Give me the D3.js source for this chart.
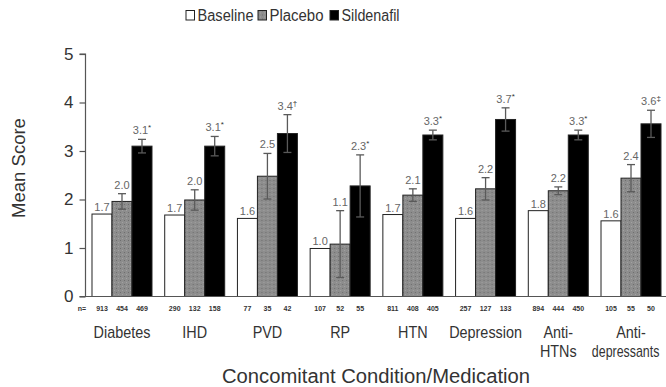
<!DOCTYPE html>
<html>
<head>
<meta charset="utf-8">
<script src="https://cdn.jsdelivr.net/npm/d3@7"></script>
<style>
  html, body { margin: 0; padding: 0; background: #fff; }
  svg { display: block; font-family: "Liberation Sans", Arial, sans-serif; }
</style>
</head>
<body>
<div id="chart"></div>
<script>
// 数据
const categories = ['Diabetes', 'IHD', 'PVD', 'RP', 'HTN', 'Depression', 'Anti-HTNs', 'Anti-depressants'];
const categoryLines = [['Diabetes'], ['IHD'], ['PVD'], ['RP'], ['HTN'], ['Depression'], ['Anti-', 'HTNs'], ['Anti-', 'depressants']];
const seriesNames = ['Baseline', 'Placebo', 'Sildenafil'];

const baseline = [1.70, 1.68, 1.61, 0.99, 1.69, 1.61, 1.77, 1.56];
const placebo = [1.96, 1.99, 2.48, 1.08, 2.09, 2.22, 2.18, 2.44];
const sildenafil = [3.10, 3.10, 3.36, 2.28, 3.33, 3.65, 3.33, 3.56];

const placeboErr = [0.16, 0.21, 0.47, 0.69, 0.13, 0.23, 0.08, 0.28];
const sildenafilErr = [0.14, 0.20, 0.39, 0.64, 0.10, 0.24, 0.10, 0.28];

const baselineLabels = ['1.7', '1.7', '1.6', '1.0', '1.7', '1.6', '1.8', '1.6'];
const placeboLabels = ['2.0', '2.0', '2.5', '1.1', '2.1', '2.2', '2.2', '2.4'];
const sildenafilLabels = ['3.1', '3.1', '3.4', '2.3', '3.3', '3.7', '3.3', '3.6'];
const sildenafilMarks = ['*', '*', '\u2020', '*', '*', '*', '*', '\u2021'];

const nBaseline = [913, 290, 77, 107, 811, 257, 894, 105];
const nPlacebo = [454, 132, 35, 52, 408, 127, 444, 55];
const nSildenafil = [469, 158, 42, 55, 405, 133, 450, 50];

const yTicks = [0, 1, 2, 3, 4, 5];

const colors = ['#ffffff', '#8a8a8a', '#000000'];

// 尺寸
const width = 666, height = 387;
const axisLeft = 85.5, axisBottom = 296.5, axisTop = 54;

const svg = d3.select('#chart').append('svg')
  .attr('width', width)
  .attr('height', height);

// 比例尺
const x0 = d3.scaleBand()
  .domain(categories)
  .range([84, 669])
  .paddingInner(0.175)
  .paddingOuter(0.11);

const x1 = d3.scaleBand()
  .domain(seriesNames)
  .range([0, x0.bandwidth()])
  .padding(0);

const y = d3.scaleLinear()
  .domain([0, 5])
  .range([axisBottom, axisTop]);

// 斑点纹理（安慰剂柱）
const defs = svg.append('defs');
const pat = defs.append('pattern')
  .attr('id', 'stipple')
  .attr('width', 4)
  .attr('height', 4)
  .attr('patternUnits', 'userSpaceOnUse');
pat.append('rect').attr('width', 4).attr('height', 4).attr('fill', '#8d8d8d');
pat.append('rect').attr('x', 0).attr('y', 0).attr('width', 1).attr('height', 1).attr('fill', '#6e6e6e');
pat.append('rect').attr('x', 2).attr('y', 2).attr('width', 1).attr('height', 1).attr('fill', '#a2a2a2');

const rows = categories.map((c, i) => ({
  cat: c,
  i,
  values: [
    { key: 'Baseline', v: baseline[i], err: 0, label: baselineLabels[i], mark: '', n: nBaseline[i] },
    { key: 'Placebo', v: placebo[i], err: placeboErr[i], label: placeboLabels[i], mark: '', n: nPlacebo[i] },
    { key: 'Sildenafil', v: sildenafil[i], err: sildenafilErr[i], label: sildenafilLabels[i], mark: sildenafilMarks[i], n: nSildenafil[i] }
  ]
}));

const groups = svg.selectAll('.grp')
  .data(rows)
  .enter()
  .append('g')
  .attr('class', 'grp')
  .attr('transform', d => `translate(${x0(d.cat)},0)`);

// 柱子
groups.selectAll('rect.bar')
  .data(d => d.values)
  .enter()
  .append('rect')
  .attr('class', 'bar')
  .attr('x', d => x1(d.key))
  .attr('width', x1.bandwidth())
  .attr('y', d => y(d.v))
  .attr('height', d => axisBottom - y(d.v))
  .attr('fill', d => d.key === 'Placebo' ? 'url(#stipple)' : colors[seriesNames.indexOf(d.key)])
  .attr('stroke', '#222')
  .attr('stroke-width', 1);

// 误差线
const errs = groups.selectAll('g.err')
  .data(d => d.values.filter(v => v.err > 0))
  .enter()
  .append('g')
  .attr('class', 'err')
  .attr('stroke', '#5a5a5a')
  .attr('stroke-width', 1.3);

errs.append('line')
  .attr('x1', d => x1(d.key) + x1.bandwidth() / 2)
  .attr('x2', d => x1(d.key) + x1.bandwidth() / 2)
  .attr('y1', d => y(d.v + d.err))
  .attr('y2', d => y(d.v - d.err));

errs.selectAll('line.cap')
  .data(d => [d.v + d.err, d.v - d.err].map(t => ({ key: d.key, t })))
  .enter()
  .append('line')
  .attr('class', 'cap')
  .attr('x1', d => x1(d.key) + x1.bandwidth() / 2 - 4)
  .attr('x2', d => x1(d.key) + x1.bandwidth() / 2 + 4)
  .attr('y1', d => y(d.t))
  .attr('y2', d => y(d.t));

// 数值标签
const vlabels = groups.selectAll('text.val')
  .data(d => d.values)
  .enter()
  .append('text')
  .attr('class', 'val')
  .attr('x', d => x1(d.key) + x1.bandwidth() / 2)
  .attr('y', d => d.err > 0 ? y(d.v + d.err) - 5 : y(d.v) - 3)
  .attr('text-anchor', 'middle')
  .style('font-size', '11px')
  .style('fill', '#666');

vlabels.append('tspan').text(d => d.label);
vlabels.append('tspan')
  .attr('dy', -4)
  .style('font-size', '8px')
  .style('fill', '#333')
  .text(d => d.mark);

// n 值
groups.selectAll('text.n')
  .data(d => d.values)
  .enter()
  .append('text')
  .attr('class', 'n')
  .attr('x', d => x1(d.key) + x1.bandwidth() / 2)
  .attr('y', 311)
  .attr('text-anchor', 'middle')
  .style('font-size', '7px')
  .style('font-weight', 'bold')
  .style('fill', '#333')
  .text(d => d.n);

svg.append('text')
  .attr('x', 82)
  .attr('y', 311)
  .attr('text-anchor', 'middle')
  .style('font-size', '7px')
  .style('font-weight', 'bold')
  .style('fill', '#333')
  .text('n=');

// 类别标签（略窄）
const catText = groups.append('text')
  .attr('transform', `translate(${x0.bandwidth() / 2},338) scale(0.9,1)`)
  .attr('text-anchor', 'middle')
  .style('font-size', '16px')
  .style('fill', '#333');

catText.selectAll('tspan')
  .data((d) => categoryLines[d.i])
  .enter()
  .append('tspan')
  .attr('x', 0)
  .attr('dy', (d, i) => i === 0 ? 0 : 19)
  .text(d => d);

// 最后一个长词收窄以免出界
catText.filter(d => d.cat === 'Anti-depressants')
  .select('tspan:last-child')
  .attr('x', -6)
  .attr('textLength', 75)
  .attr('lengthAdjust', 'spacingAndGlyphs');

// X 轴线
svg.append('line')
  .attr('x1', axisLeft)
  .attr('x2', width)
  .attr('y1', axisBottom)
  .attr('y2', axisBottom)
  .attr('stroke', '#555')
  .attr('stroke-width', 1.2);

// Y 轴
const yAxis = svg.append('g')
  .attr('transform', `translate(${axisLeft},0)`)
  .call(d3.axisLeft(y).tickValues(yTicks).tickSize(6).tickPadding(6).tickFormat(d3.format('d')));

yAxis.select('.domain')
  .attr('stroke', '#555')
  .attr('stroke-width', 1.2)
  .attr('d', `M-6,${axisTop}H0V${axisBottom}H-6`);

yAxis.selectAll('.tick line').attr('stroke', '#555').attr('stroke-width', 1.2);
yAxis.selectAll('.tick text')
  .style('font-size', '17px')
  .style('font-family', '"Liberation Sans", Arial, sans-serif')
  .style('fill', '#333');

// 轴标题
svg.append('text')
  .attr('transform', `translate(25,168) rotate(-90)`)
  .attr('text-anchor', 'middle')
  .style('font-size', '18.5px')
  .style('fill', '#333')
  .text('Mean Score');

svg.append('text')
  .attr('x', 376)
  .attr('y', 383)
  .attr('text-anchor', 'middle')
  .attr('textLength', 308)
  .attr('lengthAdjust', 'spacingAndGlyphs')
  .style('font-size', '19.5px')
  .style('fill', '#333')
  .text('Concomitant Condition/Medication');

// 图例
const legendPos = [186, 258, 330];
const legendWidths = [56, 54, 58];
const legend = svg.append('g').attr('class', 'legend');
const items = legend.selectAll('g')
  .data(seriesNames)
  .enter()
  .append('g')
  .attr('transform', (d, i) => `translate(${legendPos[i]},10.5)`);

items.append('rect')
  .attr('width', 8.5)
  .attr('height', 9.5)
  .attr('fill', (d, i) => i === 1 ? 'url(#stipple)' : colors[i])
  .attr('stroke', '#222')
  .attr('stroke-width', 1);

items.append('text')
  .attr('x', 11.5)
  .attr('y', 10.2)
  .attr('textLength', (d, i) => legendWidths[i])
  .attr('lengthAdjust', 'spacingAndGlyphs')
  .style('font-size', '16px')
  .style('fill', '#333')
  .text(d => d);
</script>
</body>
</html>
